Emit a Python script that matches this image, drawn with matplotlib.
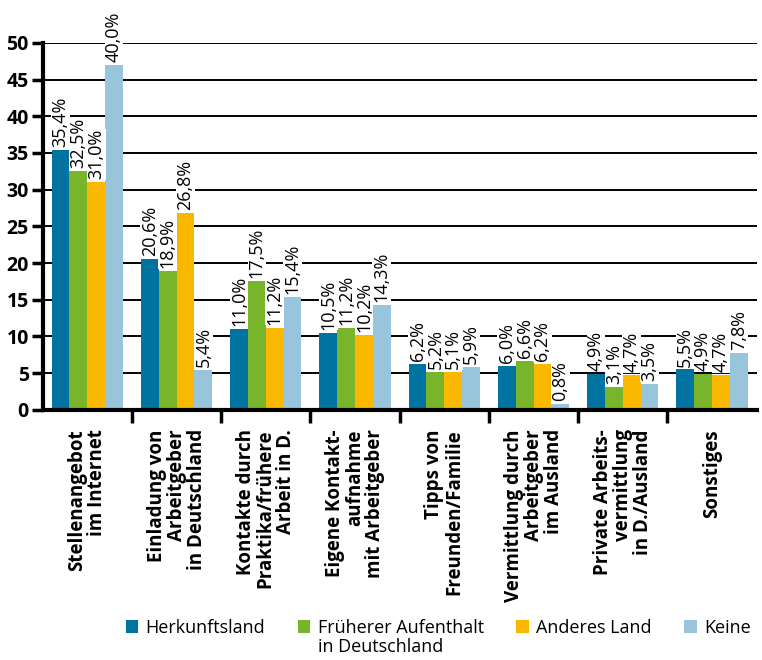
import matplotlib.pyplot as plt
import numpy as np

plt.rcParams['font.family'] = ['Open Sans', 'DejaVu Sans']

categories = ['Stellenangebot\nim Internet',
              'Einladung von\nArbeitgeber\nin Deutschland',
              'Kontakte durch\nPraktika/frühere\nArbeit in D.',
              'Eigene Kontakt-\naufnahme\nmit Arbeitgeber',
              'Tipps von\nFreunden/Familie',
              'Vermittlung durch\nArbeitgeber\nim Ausland',
              'Private Arbeits-\nvermittlung\nin D./Ausland',
              'Sonstiges']

series = ['Herkunftsland', 'Früherer Aufenthalt', 'Anderes Land', 'Keine']
series_extra = 'in Deutschland'  # second line of the second legend entry
colors = ['#0073a0', '#78b52a', '#fab900', '#98c4dc']

# bar heights as drawn in the original
herkunft = [35.4, 20.6, 11.0, 10.5, 6.2, 6.0, 4.9, 5.5]
frueher = [32.5, 18.9, 17.5, 11.2, 5.2, 6.6, 3.1, 4.9]
anderes = [31.0, 26.8, 11.2, 10.2, 5.1, 6.2, 4.7, 4.7]
keine = [47.0, 5.4, 15.4, 14.3, 5.9, 0.8, 3.5, 7.8]

# printed labels
lab_herkunft = ['35,4%', '20,6%', '11,0%', '10,5%', '6,2%', '6,0%', '4,9%', '5,5%']
lab_frueher = ['32,5%', '18,9%', '17,5%', '11,2%', '5,2%', '6,6%', '3,1%', '4,9%']
lab_anderes = ['31,0%', '26,8%', '11,2%', '10,2%', '5,1%', '6,2%', '4,7%', '4,7%']
lab_keine = ['40,0%', '5,4%', '15,4%', '14,3%', '5,9%', '0,8%', '3,5%', '7,8%']

values = [herkunft, frueher, anderes, keine]
labels = [lab_herkunft, lab_frueher, lab_anderes, lab_keine]

fig = plt.figure(figsize=(7.62, 6.6), dpi=100)
ax = fig.add_axes([0.056, 0.379, 0.937, 0.556])

x = np.arange(len(categories))
w = 0.2
for i in range(4):
    pos = x + (i - 1.5) * w
    ax.bar(pos, values[i], w, color=colors[i], label=series[i], zorder=2)
    for px, v, t in zip(pos, values[i], labels[i]):
        ax.text(px, v + 0.4, t, rotation=90, ha='center', va='bottom',
                fontsize=13, zorder=3, clip_on=False,
                bbox=dict(facecolor='white', edgecolor='none', pad=0.2))

ax.set_ylim(0, 50)
ax.set_xlim(-0.5, len(categories) - 0.5)
ax.set_yticks(range(0, 51, 5))
ax.yaxis.grid(True, color='black', linewidth=1.4, zorder=0)
ax.set_axisbelow(True)

for s in ['top', 'right']:
    ax.spines[s].set_visible(False)
ax.spines['left'].set_linewidth(3)
ax.spines['bottom'].set_linewidth(3)

ax.tick_params(axis='y', length=8, width=2.5, labelsize=14, pad=2)
for t in ax.get_yticklabels():
    t.set_fontweight('bold')

ax.set_xticks(x)
ax.set_xticklabels(categories, rotation=90, fontsize=13.5, fontweight='bold',
                   ha='center', va='top', multialignment='right', linespacing=1.0)
ax.tick_params(axis='x', length=0, pad=14)
ax.set_xticks(np.arange(0.5, len(categories) - 0.5, 1), minor=True)
ax.tick_params(axis='x', which='minor', length=9, width=2.5)

leg = fig.legend(*ax.get_legend_handles_labels(), loc='upper left',
                 bbox_to_anchor=(0.165, 0.062), ncol=4, frameon=False,
                 fontsize=13, handlelength=0.7, handleheight=0.7, handletextpad=0.4,
                 columnspacing=1.8, borderaxespad=0, borderpad=0)

# second line under "Früherer Aufenthalt"
fig.canvas.draw()
bb = leg.get_texts()[1].get_window_extent().transformed(fig.transFigure.inverted())
fig.text(bb.x0, bb.y0 - 0.002, series_extra, fontsize=13, ha='left', va='top')

fig.savefig('out.png', dpi=100)
